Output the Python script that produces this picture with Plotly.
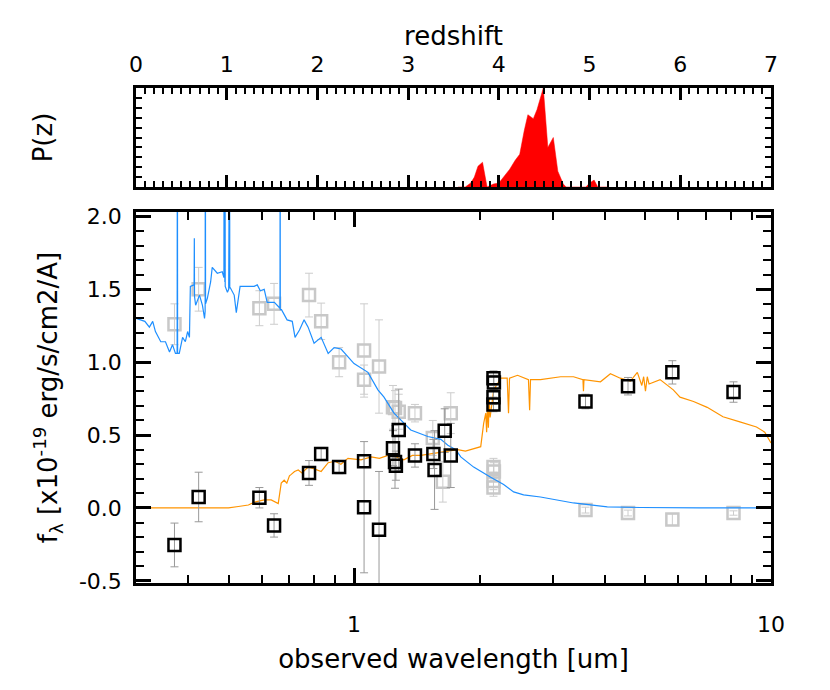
import numpy as np
import plotly.graph_objects as go

# ---------------- data ----------------
# P(z)
pz_z = [3.55, 3.63, 3.69, 3.73, 3.77, 3.82, 3.87, 3.90, 3.94, 4.00, 4.05, 4.12, 4.18, 4.23,
        4.28, 4.32, 4.38, 4.42, 4.49, 4.54, 4.60, 4.65, 4.71, 4.74, 4.96, 5.00, 5.05, 5.09, 5.2]
pz_p = [0.0, 0.0, 0.04, 0.10, 0.21, 0.25, 0.0, 0.01, 0.03, 0.04, 0.10, 0.18, 0.27, 0.33,
        0.57, 0.73, 0.69, 0.78, 1.0, 0.40, 0.50, 0.16, 0.03, 0.0, 0.0, 0.04, 0.07, 0.0, 0.0]

# blue template (wavelength um, flux)
blue_lam = [0.300, 0.315, 0.323, 0.329, 0.334, 0.344, 0.353, 0.361, 0.367, 0.373,
            0.3765, 0.377, 0.3775, 0.381, 0.388, 0.394, 0.399, 0.403, 0.405,
            0.4135, 0.414, 0.4145, 0.417, 0.426, 0.433, 0.438,
            0.4395, 0.440, 0.4405, 0.445, 0.453, 0.457, 0.470, 0.483,
            0.4875, 0.488, 0.4885, 0.490, 0.4905, 0.491, 0.497,
            0.5005, 0.501, 0.5015, 0.5025, 0.503, 0.5035, 0.505,
            0.516, 0.522, 0.533, 0.555, 0.576, 0.586, 0.596, 0.609, 0.619, 0.644, 0.660,
            0.6645, 0.665, 0.6655, 0.670, 0.691, 0.711, 0.722, 0.740, 0.759, 0.776,
            0.802, 0.834, 0.867, 0.896, 0.931, 1.0, 1.08, 1.141, 1.18, 1.247, 1.368,
            1.503, 1.56, 1.615, 1.679, 1.754, 1.803, 1.936, 2.127, 2.285, 2.414, 2.551,
            2.80, 3.36, 4.05, 4.86, 6.76, 10.0]
blue_f = [1.30, 1.28, 1.24, 1.28, 1.21, 1.14, 1.14, 1.07, 1.12, 1.06,
          1.06, 3.0, 1.06, 1.06, 1.17, 1.14, 1.21, 1.17, 1.52,
          1.53, 1.85, 1.45, 1.39, 1.46, 1.39, 1.30,
          1.35, 3.0, 1.40, 1.44, 1.55, 1.65, 1.61, 1.62,
          1.58, 3.0, 1.56, 1.55, 3.0, 1.52, 1.48,
          1.50, 3.0, 1.50, 1.50, 3.0, 1.51, 1.51,
          1.46, 1.34, 1.52, 1.52, 1.52, 1.53, 1.49, 1.50, 1.41, 1.41, 1.38,
          1.37, 3.0, 1.36, 1.36, 1.29, 1.28, 1.17, 1.22, 1.29, 1.24,
          1.13, 1.17, 1.06, 1.10, 1.09, 0.99, 0.93, 0.81, 0.76, 0.65, 0.535,
          0.49, 0.48, 0.47, 0.43, 0.40, 0.35, 0.28, 0.21, 0.16, 0.11, 0.09,
          0.075, 0.034, 0.007, 0.003, 0.001, 0.0]

# orange template
orange_lam = [0.300, 0.500, 0.528, 0.558, 0.577, 0.609, 0.633, 0.658, 0.669, 0.680,
              0.690, 0.700, 0.707, 0.720, 0.735, 0.750, 0.776, 0.800, 0.834, 0.867,
              0.900, 0.930, 0.967, 1.039, 1.10, 1.15, 1.206, 1.26, 1.317, 1.38, 1.446,
              1.52, 1.615, 1.70, 1.773, 1.85, 1.936, 2.013, 2.046, 2.07, 2.08, 2.09,
              2.10, 2.11, 2.12, 2.163, 2.249, 2.33, 2.347, 2.36, 2.467, 2.62, 2.637,
              2.65, 2.80, 3.13, 3.36, 3.54, 3.55, 3.56, 3.90, 4.12, 4.35, 4.60, 4.78,
              4.90, 4.95, 5.00, 5.05, 5.10, 5.42, 5.83, 6.05, 6.52, 7.03, 7.67, 8.42,
              9.23, 9.66, 10.0]
orange_f = [0.0, 0.0, 0.01, 0.02, 0.04, 0.055, 0.055, 0.03, 0.17, 0.19,
            0.17, 0.22, 0.23, 0.25, 0.26, 0.24, 0.28, 0.27, 0.25, 0.31,
            0.32, 0.30, 0.34, 0.33, 0.35, 0.34, 0.36, 0.35, 0.33, 0.36, 0.36,
            0.37, 0.38, 0.39, 0.40, 0.39, 0.405, 0.42, 0.58, 0.65, 0.52, 0.72,
            0.55, 0.75, 0.62, 0.81, 0.89, 0.89, 0.65, 0.89, 0.91, 0.88, 0.67,
            0.88, 0.88, 0.90, 0.90, 0.88, 0.80, 0.88, 0.865, 0.92, 0.89, 0.87, 0.93,
            0.84, 0.90, 0.80, 0.90, 0.85, 0.88, 0.81, 0.76, 0.73, 0.69, 0.625, 0.59,
            0.555, 0.52, 0.445]

# photometry: detections (black) and alternative/others (grey)
det_lam = [0.371, 0.424, 0.593, 0.643, 0.78, 0.834, 0.921, 1.057, 1.057, 1.148,
           1.24, 1.254, 1.26, 1.28, 1.40, 1.55, 1.56, 1.65, 1.706,
           2.16, 2.165, 2.16, 2.16, 3.59, 4.54, 5.80, 8.13]
det_f = [-0.254, 0.075, 0.07, -0.12, 0.24, 0.37, 0.28, 0.32, 0.005, -0.15,
         0.41, 0.315, 0.29, 0.535, 0.36, 0.37, 0.26, 0.53, 0.36,
         0.89, 0.86, 0.76, 0.71, 0.73, 0.835, 0.93, 0.795]
det_err = [0.15, 0.17, 0.07, 0.08, 0.085, 0.045, 0.045, 0.04, 0.45, 0.40,
           0.12, 0.18, 0.10, 0.28, 0.08, 0.10, 0.27, 0.15, 0.22,
           0.05, 0.05, 0.05, 0.05, 0.05, 0.06, 0.08, 0.07]

alt_lam = [0.371, 0.424, 0.593, 0.643, 0.78, 0.834, 0.921, 1.057, 1.057, 1.148,
           1.24, 1.254, 1.28, 1.40, 1.545, 1.706, 1.633,
           2.16, 2.165, 2.16, 2.16, 3.59, 4.54, 5.80, 8.13]
alt_f = [1.26, 1.50, 1.37, 1.40, 1.46, 1.28, 1.00, 1.08, 0.88, 0.97,
         0.69, 0.685, 0.66, 0.65, 0.48, 0.65, 0.18,
         0.28, 0.25, 0.185, 0.14, -0.015, -0.035, -0.08, -0.035]
alt_err = [0.14, 0.15, 0.12, 0.14, 0.15, 0.125, 0.10, 0.32, 0.10, 0.32,
           0.15, 0.12, 0.12, 0.06, 0.12, 0.14, 0.14,
           0.06, 0.06, 0.06, 0.06, 0.02, 0.02, 0.04, 0.015]

z_ticks = [0, 1, 2, 3, 4, 5, 6, 7]
y_ticks = [-0.5, 0.0, 0.5, 1.0, 1.5, 2.0]
y_ticktext = ["-0.5", "0.0", "0.5", "1.0", "1.5", "2.0"]
x_major = [1, 10]
x_minor = [0.4, 0.5, 0.6, 0.7, 0.8, 0.9, 2, 3, 4, 5, 6, 7, 8, 9]

# ---------------- figure ----------------
W, H = 830, 690
OFF = 8  # page body margin
ML, MR, MT, MB = 136 - OFF, W - 771 + OFF, 88 - OFF, H - 583 + OFF
PH = H - MT - MB
FONT = "DejaVu Sans"
fig = go.Figure()

fig.add_trace(go.Scatter(x=pz_z, y=pz_p, mode="lines", fill="tozeroy",
                         fillcolor="#ff0000", line=dict(color="#ff0000", width=0.5),
                         xaxis="x2", yaxis="y2", showlegend=False))

fig.add_trace(go.Scatter(x=alt_lam, y=alt_f, mode="markers",
                         marker=dict(symbol="square-open", size=12, color="#c8c8c8",
                                     line=dict(width=2.5, color="#c8c8c8")),
                         error_y=dict(type="data", array=alt_err, color="#cccccc",
                                      thickness=1, width=4),
                         showlegend=False))
fig.add_trace(go.Scatter(x=blue_lam, y=blue_f, mode="lines",
                         line=dict(color="#1e8fff", width=1.2), showlegend=False))
fig.add_trace(go.Scatter(x=orange_lam, y=orange_f, mode="lines",
                         line=dict(color="#ff9400", width=1.2), showlegend=False))
fig.add_trace(go.Scatter(x=det_lam, y=det_f, mode="markers",
                         marker=dict(symbol="square-open", size=12, color="black",
                                     line=dict(width=2.5, color="black")),
                         error_y=dict(type="data", array=det_err, color="#999999",
                                      thickness=1, width=4),
                         showlegend=False))

axline = dict(showline=True, linewidth=2.5, linecolor="black", mirror="allticks",
              showgrid=False, zeroline=False, ticks="inside", tickcolor="black",
              tickwidth=2.5, automargin=False)

fig.update_layout(
    width=W, height=H, margin=dict(l=ML, r=MR, t=MT, b=MB, autoexpand=False),
    paper_bgcolor="white", plot_bgcolor="white",
    font=dict(family=FONT, size=22, color="black"),
    xaxis=dict(domain=[0, 1], type="log", range=[np.log10(0.3), 1.0],
               tickmode="array", tickvals=x_major, ticktext=["1", "10"], ticklen=15,
               ticklabelstandoff=20,
               minor=dict(tickmode="array", tickvals=x_minor, ticks="inside", ticklen=8,
                          tickwidth=2, tickcolor="black"),
               title=dict(text="observed wavelength [um]", standoff=14),
               anchor="y", **axline),
    yaxis=dict(domain=[0, (583 - 212) / PH], range=[-0.515, 2.03],
               tickmode="array", tickvals=y_ticks, ticktext=y_ticktext, ticklen=15,
               ticklabelstandoff=7,
               minor=dict(dtick=0.1, tick0=0, ticks="inside", ticklen=8, tickwidth=2,
                          tickcolor="black"),
               title=dict(text="f<sub>λ</sub> [x10<sup>-19</sup> erg/s/cm2/A]", standoff=14),
               anchor="x", **axline),
    xaxis2=dict(domain=[0, 1], range=[0, 7], side="top",
                tickmode="array", tickvals=z_ticks, ticklen=12,
                ticklabelstandoff=4,
                minor=dict(dtick=0.1, tick0=0, ticks="inside", ticklen=6, tickwidth=2,
                           tickcolor="black"),
                title=dict(text="redshift", standoff=0),
                anchor="y2", **axline),
    yaxis2=dict(domain=[1 - (187 - 88) / PH, 1], range=[0, 1.0],
                tickmode="array", tickvals=[], showticklabels=False,
                minor=dict(dtick=0.1, tick0=0, ticks="inside", ticklen=6, tickwidth=2,
                           tickcolor="black"),
                title=dict(text="P(z)", standoff=74),
                anchor="x2", **axline),
)

fig.write_html("out.html")
